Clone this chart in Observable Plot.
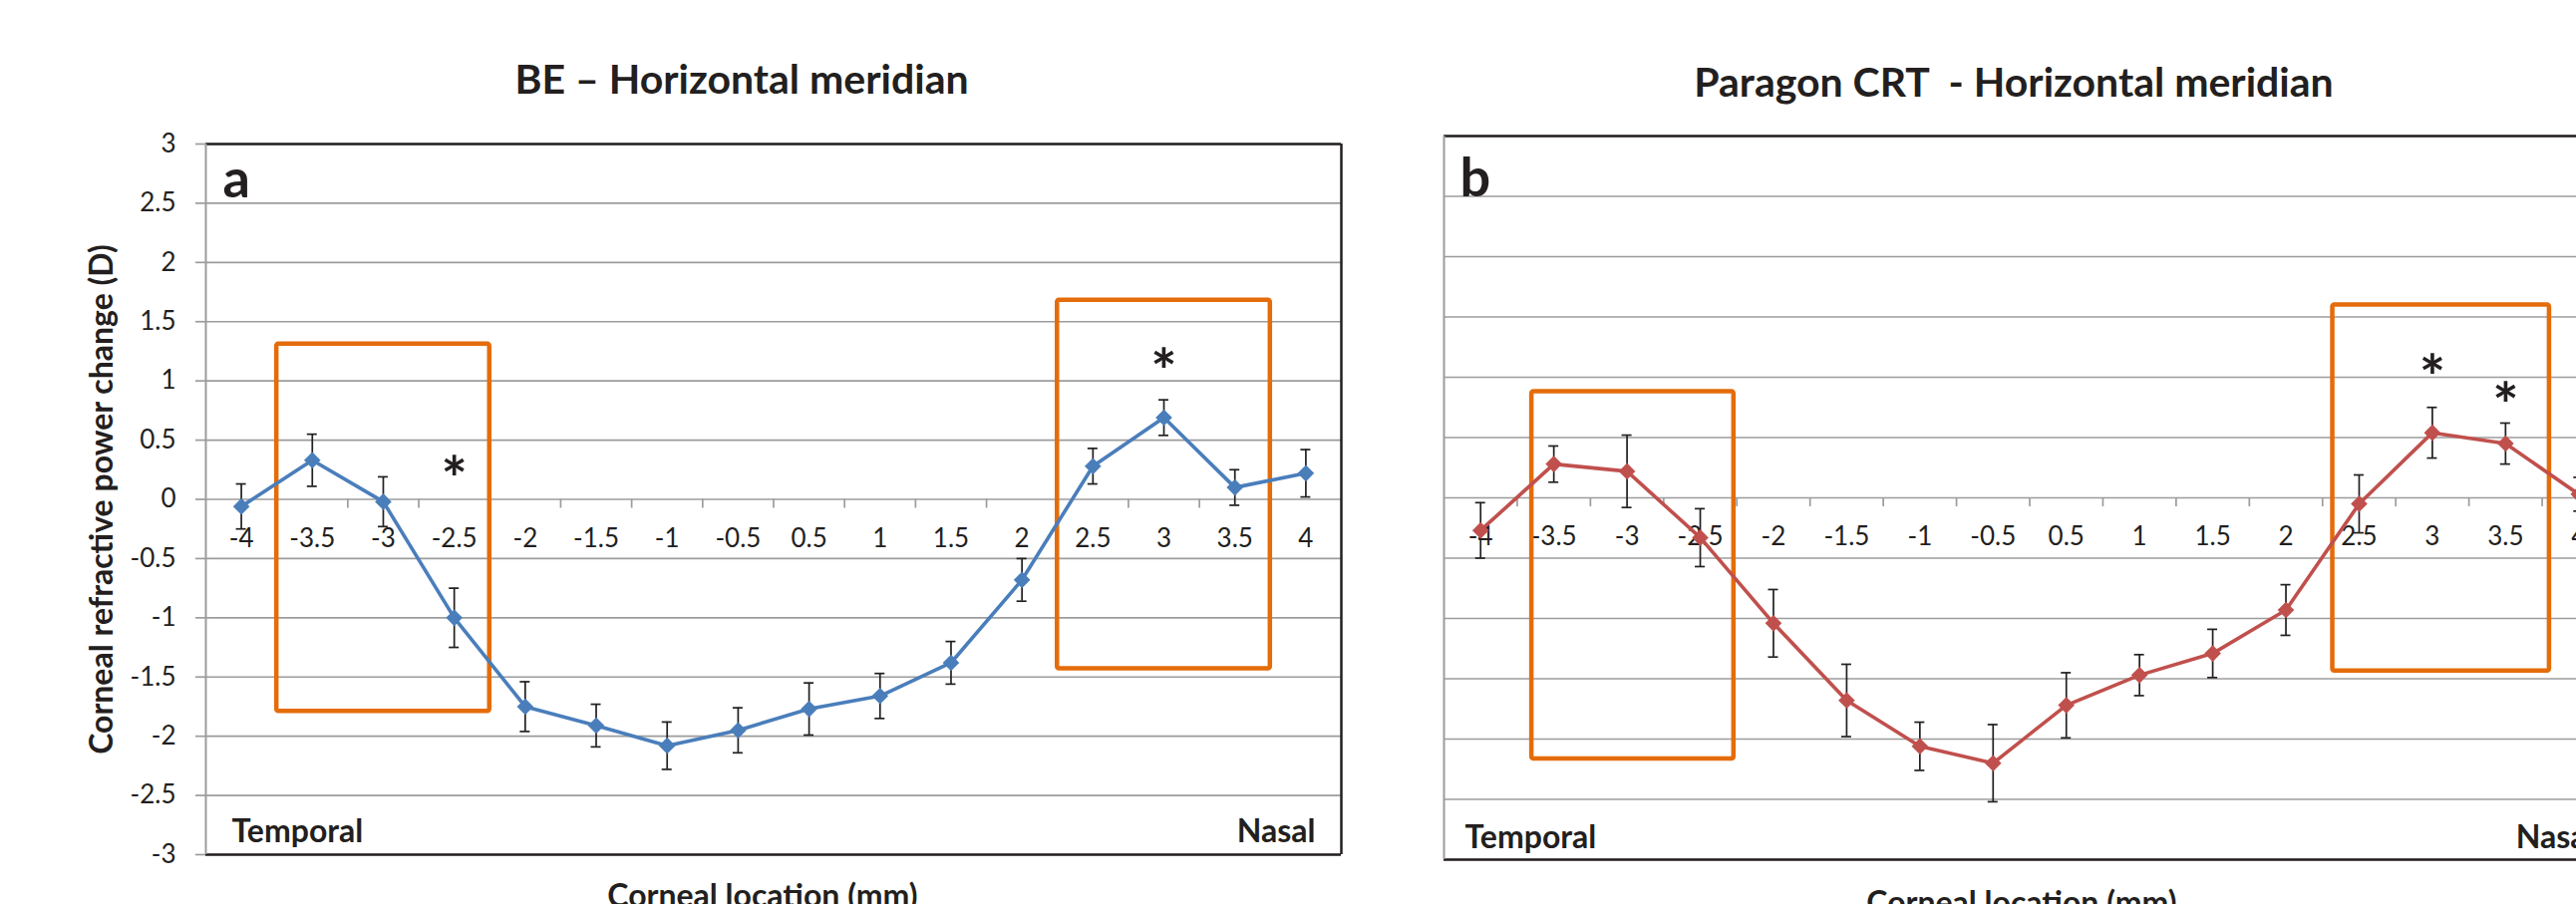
<!DOCTYPE html>
<html><head><meta charset="utf-8">
<script src="https://cdn.jsdelivr.net/npm/d3@7"></script>
<script src="https://cdn.jsdelivr.net/npm/@observablehq/plot@0.6"></script>
<style>
html,body{margin:0;padding:0;background:#fff;overflow:hidden;}
#wrap{position:relative;width:2584px;height:907px;overflow:hidden;background:#fff;}
#wrap svg{position:absolute;top:0;}
</style></head><body><div id="wrap"></div>
<script>
// ---- data ----
const categories = ["-4","-3.5","-3","-2.5","-2","-1.5","-1","-0.5","0.5","1","1.5","2","2.5","3","3.5","4"];
const yTicks = [-3,-2.5,-2,-1.5,-1,-0.5,0,0.5,1,1.5,2,2.5,3];
const beMean = [-0.06, 0.33, -0.02, -1.00, -1.75, -1.91, -2.08, -1.95, -1.77, -1.66, -1.38, -0.68, 0.28, 0.69, 0.10, 0.22];
const beErr  = [0.19, 0.22, 0.21, 0.25, 0.21, 0.18, 0.20, 0.19, 0.22, 0.19, 0.18, 0.18, 0.15, 0.15, 0.15, 0.20];
const crtMean = [-0.27, 0.28, 0.22, -0.33, -1.04, -1.68, -2.06, -2.20, -1.72, -1.47, -1.29, -0.93, -0.05, 0.54, 0.45, 0.03];
const crtErr  = [0.23, 0.15, 0.30, 0.24, 0.28, 0.30, 0.20, 0.32, 0.27, 0.17, 0.20, 0.21, 0.24, 0.21, 0.17, 0.14];
// highlight boxes (x in category-index units, y in dioptres)
const boxesA = [{x1: 0.5, x2: 3.5, y1: -1.79, y2: 1.31}, {x1: 11.5, x2: 14.5, y1: -1.43, y2: 1.68}];
const boxesB = [{x1: 0.7, x2: 3.46, y1: -2.165, y2: 0.88}, {x1: 11.64, x2: 14.6, y1: -1.435, y2: 1.60}];
const starsA = [{cat: "-2.5", y: 0.29}, {cat: "3", y: 1.20}];
const starsB = [{cat: "3", y: 1.12}, {cat: "3.5", y: 0.89}];
const titleA = "BE – Horizontal meridian";
const titleB = "Paragon CRT\u00a0 - Horizontal meridian";
const yLabel = "Corneal refractive power change (D)";
const xLabel = "Corneal location (mm)";

const GRID = "#9c9c9c", INK = "#231f20", ORANGE = "#e46c0a";
const boundaries = d3.range(0.5, categories.length - 1, 1);

function panel(o) {
  const rows = categories.map((c, i) => ({i, c, m: o.mean[i], e: o.err[i]}));
  const stars = o.stars.map(s => ({i: categories.indexOf(s.cat), y: s.y}));
  const bold = {fontWeight: "bold", fill: INK, lineAnchor: "middle"};
  const marks = [
    Plot.ruleY(yTicks, {stroke: GRID, strokeWidth: 1.7}),
    Plot.ruleY([3, -3], {stroke: INK, strokeWidth: 2.5}),
    Plot.ruleX([categories.length - 0.5], {stroke: INK, strokeWidth: 2.5}),
    Plot.ruleX([-0.5], {stroke: GRID, strokeWidth: 2}),
    Plot.ruleX(boundaries, {x: d => d, y1: 0, y2: 0, insetBottom: -9, stroke: GRID, strokeWidth: 1.7}),
    Plot.text(categories, {x: (d, i) => i, y: 0, text: d => d, dy: o.labelDy, fontSize: 26, fill: INK, lineAnchor: "middle"}),
    Plot.rect(o.boxes, {x1: "x1", x2: "x2", y1: "y1", y2: "y2", fill: "none", stroke: ORANGE, strokeWidth: 4.5, rx: 2}),
    Plot.ruleX(rows, {x: "i", y1: d => d.m - d.e, y2: d => d.m + d.e, stroke: INK, strokeWidth: 1.7}),
    Plot.ruleY(rows, {y: d => d.m + d.e, x1: "i", x2: "i", insetLeft: -5, insetRight: -5, stroke: INK, strokeWidth: 1.7}),
    Plot.ruleY(rows, {y: d => d.m - d.e, x1: "i", x2: "i", insetLeft: -5, insetRight: -5, stroke: INK, strokeWidth: 1.7}),
    Plot.line(rows, {x: "i", y: "m", stroke: o.color, strokeWidth: 3.6, strokeLinejoin: "round"}),
    Plot.dot(rows, {x: "i", y: "m", symbol: "diamond2", r: 7.5, fill: o.color, stroke: "none"}),
    Plot.text(stars, {x: "i", y: "y", text: () => "*", fontSize: 62, ...bold, dy: 17}),
    Plot.text([o.title], {frameAnchor: "top", textAnchor: "middle", dx: o.titleDx, dy: o.titleDy, fontSize: 41, ...bold}),
    Plot.text([o.letter], {frameAnchor: "top-left", textAnchor: "start", dx: o.letterDx, dy: o.letterDy, fontSize: 54, ...bold}),
    Plot.text(["Temporal"], {frameAnchor: "bottom-left", textAnchor: "start", dx: o.sideDx, dy: o.sideDy, fontSize: 32, ...bold}),
    Plot.text(["Nasal"], {frameAnchor: "bottom-right", textAnchor: "end", dx: -o.sideDx, dy: o.sideDy, fontSize: 32, ...bold}),
    Plot.text([xLabel], {frameAnchor: "bottom", textAnchor: "middle", dx: o.xTitleDx, dy: o.xTitleDy, fontSize: 32, ...bold})
  ];
  if (o.yAxis) {
    marks.push(Plot.axisY(yTicks, {tickSize: 10, tickPadding: 20, stroke: GRID, strokeWidth: 1.7, fill: INK, fontSize: 26, tickFormat: d => String(d)}));
    marks.push(Plot.text([yLabel], {frameAnchor: "left", textAnchor: "middle", dx: -104, rotate: -90, fontSize: 32, ...bold}));
  }
  const svg = Plot.plot({
    width: o.width, height: 907,
    marginLeft: o.ml, marginRight: o.mr, marginTop: o.mt, marginBottom: o.mb,
    x: {type: "linear", domain: [-0.5, categories.length - 0.5], axis: null},
    y: {domain: [-3, 3], axis: null},
    style: {fontFamily: "Lato, 'Open Sans', sans-serif", background: "white", overflow: "visible"},
    marks
  });
  svg.style.left = o.left + "px";
  document.getElementById("wrap").appendChild(svg);
}

panel({left: 0, width: 1380, ml: 206, mr: 35, mt: 144, mb: 50,
  mean: beMean, err: beErr, color: "#4a7ebb", boxes: boxesA, stars: starsA,
  title: titleA, titleDx: -32, titleDy: -64, letter: "a", letterDx: 17, letterDy: 36,
  sideDx: 26, sideDy: -23, xTitleDx: -11, xTitleDy: 42, labelDy: 40, yAxis: true});

panel({left: 1380, width: 1300, ml: 68, mr: 57, mt: 136, mb: 45,
  mean: crtMean, err: crtErr, color: "#c0504d", boxes: boxesB, stars: starsB,
  title: titleB, titleDx: -16, titleDy: -53, letter: "b", letterDx: 16, letterDy: 43,
  sideDx: 21, sideDy: -22, xTitleDx: -8, xTitleDy: 44, labelDy: 39, yAxis: false});
</script>
</body></html>
